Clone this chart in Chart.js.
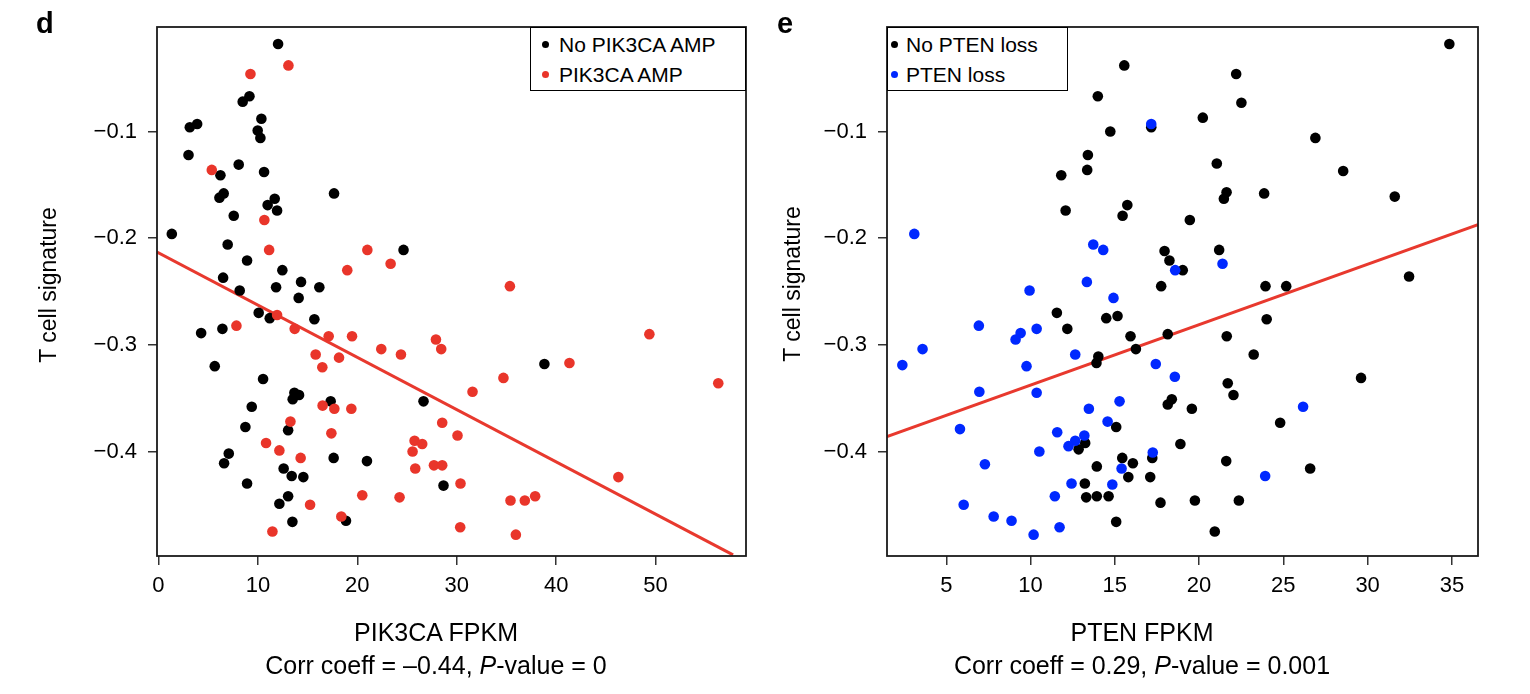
<!DOCTYPE html>
<html>
<head>
<meta charset="utf-8">
<script src="https://cdn.jsdelivr.net/npm/chart.js@4/dist/chart.umd.min.js"></script>
<style>
  body { margin: 0; background: #fff; font-family: "Liberation Sans", Arial, Helvetica, sans-serif; color: #000; }
  #fig { position: relative; width: 1530px; height: 694px; overflow: hidden; }
  .painel { position: absolute; top: 0; }
  .letra { position: absolute; top: 9px; font-weight: bold; font-size: 29px; line-height: 29px; }
  .ytitulo { position: absolute; font-size: 23px; line-height: 23px; white-space: nowrap; transform: translate(-50%, -50%) rotate(-90deg); }
  .xtitulo { position: absolute; top: 616px; width: 600px; margin-left: -300px; text-align: center; font-size: 25px; line-height: 33.3px; white-space: nowrap; }
  .legenda { position: absolute; top: 27px; height: 64px; box-sizing: border-box; border: 1.5px solid #000; background: #fff; font-size: 21px; line-height: 30px; padding-top: 2px; white-space: nowrap; }
  .legenda span { display: inline-block; width: 7px; height: 7px; border-radius: 50%; vertical-align: middle; position: relative; top: -2px; }
</style>
</head>
<body>
<div id="fig">
  <canvas id="grafico-pik3ca" class="painel" style="left:0" width="765" height="694"></canvas>
  <canvas id="grafico-pten" class="painel" style="left:765px" width="765" height="694"></canvas>

  <div class="letra" style="left:36px">d</div>
  <div class="letra" style="left:777px">e</div>

  <div class="ytitulo" style="left:47.5px; top:284.5px">T cell signature</div>
  <div class="ytitulo" style="left:792px; top:284px">T cell signature</div>

  <div class="xtitulo" style="left:436px">PIK3CA FPKM<br>Corr coeff = –0.44, <i>P</i>-value = 0</div>
  <div class="xtitulo" style="left:1142px">PTEN FPKM<br>Corr coeff = 0.29, <i>P</i>-value = 0.001</div>

  <div class="legenda" style="left:530px; width:216px; padding-left:11px">
    <div><span style="background:#000; margin-right:10px"></span>No PIK3CA AMP</div>
    <div><span style="background:#e9352a; margin-right:10px"></span>PIK3CA AMP</div>
  </div>
  <div class="legenda" style="left:887px; width:181px; padding-left:3px">
    <div><span style="background:#000; margin-right:8px"></span>No PTEN loss</div>
    <div><span style="background:#0028ff; margin-right:8px"></span>PTEN loss</div>
  </div>
</div>

<script>
// Painel d: PIK3CA
const pikSemAmpX = [12.03, 9.15, 8.47, 10.35, 3.89, 3.15, 9.98, 10.25, 3.02, 8.07,
  6.23, 10.62, 6.56, 6.13, 11.69, 10.98, 11.93, 17.66, 7.57, 1.34,
  6.96, 24.65, 8.91, 12.46, 6.50, 8.17, 11.83, 14.34, 16.18, 14.10,
  10.08, 11.19, 15.68, 4.29, 6.43, 5.66, 10.52, 13.67, 14.14, 13.50,
  17.32, 26.66, 9.38, 8.74, 13.04, 7.07, 6.60, 17.62, 20.97, 12.59,
  13.40, 14.57, 8.91, 28.67, 13.04, 12.16, 13.47, 18.86, 38.82];
const pikSemAmpY = [-0.018, -0.067, -0.072, -0.088, -0.093, -0.096, -0.099, -0.106, -0.122, -0.131,
  -0.141, -0.138, -0.158, -0.162, -0.163, -0.169, -0.174, -0.158, -0.179, -0.196,
  -0.206, -0.211, -0.221, -0.230, -0.237, -0.249, -0.246, -0.241, -0.246, -0.256,
  -0.270, -0.275, -0.276, -0.289, -0.285, -0.320, -0.332, -0.345, -0.347, -0.351,
  -0.353, -0.353, -0.358, -0.377, -0.380, -0.402, -0.411, -0.406, -0.409, -0.416,
  -0.423, -0.424, -0.430, -0.432, -0.442, -0.449, -0.466, -0.465, -0.318];

const pikAmpX = [9.25, 13.07, 5.36, 10.65, 11.13, 21.01, 18.99, 23.35, 11.93, 7.84,
  13.70, 17.12, 19.47, 22.41, 24.39, 27.91, 28.44, 15.81, 18.16, 16.48,
  16.51, 17.69, 19.40, 13.27, 28.54, 17.39, 10.82, 12.16, 14.30, 25.76,
  25.56, 26.53, 25.83, 27.71, 28.54, 20.50, 24.25, 15.25, 18.39, 11.46,
  35.35, 49.38, 41.34, 56.31, 34.70, 31.59, 30.08, 30.38, 35.41, 36.85,
  37.89, 46.26, 30.35, 35.95];
const pikAmpY = [-0.046, -0.038, -0.136, -0.183, -0.211, -0.211, -0.230, -0.224, -0.272, -0.282,
  -0.285, -0.292, -0.292, -0.304, -0.309, -0.295, -0.304, -0.309, -0.312, -0.321,
  -0.357, -0.360, -0.360, -0.372, -0.373, -0.383, -0.392, -0.399, -0.406, -0.390,
  -0.400, -0.393, -0.416, -0.413, -0.413, -0.441, -0.443, -0.450, -0.461, -0.475,
  -0.245, -0.290, -0.317, -0.336, -0.331, -0.344, -0.385, -0.430, -0.446, -0.446,
  -0.442, -0.424, -0.471, -0.478];

const pikRetaX = [-0.15, 57.8];
const pikRetaY = [-0.213, -0.497];

// Painel e: PTEN
const ptenSemPerdaX = [15.56, 13.99, 14.73, 17.16, 13.40, 13.36, 11.82, 15.74, 15.46, 12.08,
  17.95, 18.24, 17.75, 11.56, 12.18, 14.49, 15.16, 15.93, 18.14, 16.25,
  14.02, 13.91, 18.38, 18.14, 15.08, 13.24, 12.85, 18.89, 15.44, 16.07,
  17.22, 13.93, 15.80, 17.10, 13.22, 13.30, 13.93, 14.63, 17.71, 15.08,
  34.85, 22.20, 22.51, 20.22, 26.90, 21.05, 28.55, 21.63, 21.47, 23.86,
  31.61, 19.45, 21.19, 19.03, 32.46, 23.94, 25.17, 24.01, 21.64, 23.24,
  29.61, 21.70, 22.04, 19.57, 24.81, 21.61, 26.59, 19.75, 22.36, 20.93];
const ptenSemPerdaY = [-0.038, -0.067, -0.100, -0.096, -0.122, -0.136, -0.141, -0.169, -0.179, -0.174,
  -0.212, -0.221, -0.245, -0.270, -0.285, -0.275, -0.273, -0.292, -0.290, -0.304,
  -0.311, -0.317, -0.351, -0.356, -0.377, -0.392, -0.398, -0.393, -0.406, -0.411,
  -0.406, -0.414, -0.424, -0.424, -0.430, -0.443, -0.442, -0.442, -0.448, -0.466,
  -0.018, -0.046, -0.073, -0.087, -0.106, -0.130, -0.137, -0.157, -0.163, -0.158,
  -0.161, -0.183, -0.211, -0.230, -0.236, -0.245, -0.245, -0.276, -0.292, -0.309,
  -0.331, -0.336, -0.347, -0.360, -0.373, -0.409, -0.416, -0.446, -0.446, -0.475];

const ptenPerdaX = [17.16, 3.10, 13.72, 14.31, 18.58, 13.34, 9.94, 14.92, 6.93, 9.41,
  9.11, 10.36, 3.59, 2.39, 9.76, 12.65, 17.43, 18.56, 6.96, 10.36,
  15.28, 13.46, 14.57, 5.81, 11.58, 13.19, 12.65, 12.25, 10.52, 17.25,
  15.40, 7.29, 12.43, 14.85, 11.44, 6.03, 7.81, 8.87, 10.18, 11.72,
  21.39, 26.17, 23.92];
const ptenPerdaY = [-0.093, -0.196, -0.206, -0.211, -0.230, -0.241, -0.249, -0.256, -0.282, -0.289,
  -0.295, -0.285, -0.304, -0.319, -0.320, -0.309, -0.318, -0.330, -0.344, -0.345,
  -0.353, -0.360, -0.372, -0.379, -0.382, -0.385, -0.390, -0.395, -0.400, -0.401,
  -0.416, -0.412, -0.430, -0.431, -0.442, -0.450, -0.461, -0.465, -0.478, -0.471,
  -0.224, -0.358, -0.423];

const ptenRetaX = [1.48, 36.55];
const ptenRetaY = [-0.386, -0.1874];

const fonte = '"Liberation Sans", Arial, Helvetica, sans-serif';

// caixa em volta da área do gráfico
const moldura = {
  id: 'moldura',
  afterDatasetsDraw(chart) {
    const a = chart.chartArea;
    const c = chart.ctx;
    c.save();
    c.strokeStyle = '#1a1a1a';
    c.lineWidth = 1.8;
    c.strokeRect(a.left, a.top, a.right - a.left, a.bottom - a.top);
    c.restore();
  }
};

function pontos(xs, ys) {
  return xs.map((x, i) => ({ x: x, y: ys[i] }));
}

const gradeEixo = { display: true, drawOnChartArea: false, drawTicks: true, tickLength: 9, color: '#333', lineWidth: 1.5 };

function criarGrafico(id, o) {
  return new Chart(document.getElementById(id), {
    type: 'scatter',
    data: {
      datasets: [
        { data: pontos(o.corX, o.corY), backgroundColor: o.cor, pointRadius: 5.3, borderWidth: 0, order: 1 },
        { data: pontos(o.pretoX, o.pretoY), backgroundColor: '#000', pointRadius: 5.3, borderWidth: 0, order: 2 },
        { type: 'line', data: pontos(o.retaX, o.retaY), borderColor: '#e8392e', borderWidth: 3, pointRadius: 0, showLine: true, fill: false, order: 3 }
      ]
    },
    options: {
      responsive: false,
      animation: false,
      events: [],
      layout: { padding: { top: 27, right: o.direita, left: 0, bottom: 0 } },
      plugins: { legend: { display: false }, tooltip: { enabled: false } },
      scales: {
        x: {
          type: 'linear', min: o.xMin, max: o.xMax,
          afterFit: s => { s.height = 138; },
          grid: gradeEixo,
          border: { display: false },
          ticks: {
            stepSize: o.passo, includeBounds: false, autoSkip: false, maxRotation: 0,
            color: '#000', padding: 8, font: { family: fonte, size: 22 },
            callback: v => String(v)
          }
        },
        y: {
          type: 'linear', min: -0.498, max: -0.002,
          afterFit: s => { s.width = o.esquerda; },
          grid: gradeEixo,
          border: { display: false },
          ticks: {
            stepSize: 0.1, includeBounds: false, autoSkip: false,
            color: '#000', padding: 11, font: { family: fonte, size: 22 },
            callback: v => v.toFixed(1).replace('-', '\u2212')
          }
        }
      }
    },
    plugins: [moldura]
  });
}

criarGrafico('grafico-pik3ca', {
  pretoX: pikSemAmpX, pretoY: pikSemAmpY,
  corX: pikAmpX, corY: pikAmpY, cor: '#e9352a',
  retaX: pikRetaX, retaY: pikRetaY,
  xMin: -0.15, xMax: 59.1, passo: 10,
  esquerda: 157, direita: 19
});

criarGrafico('grafico-pten', {
  pretoX: ptenSemPerdaX, pretoY: ptenSemPerdaY,
  corX: ptenPerdaX, corY: ptenPerdaY, cor: '#0028ff',
  retaX: ptenRetaX, retaY: ptenRetaY,
  xMin: 1.48, xMax: 36.55, passo: 5,
  esquerda: 122, direita: 52
});
</script>
</body>
</html>
